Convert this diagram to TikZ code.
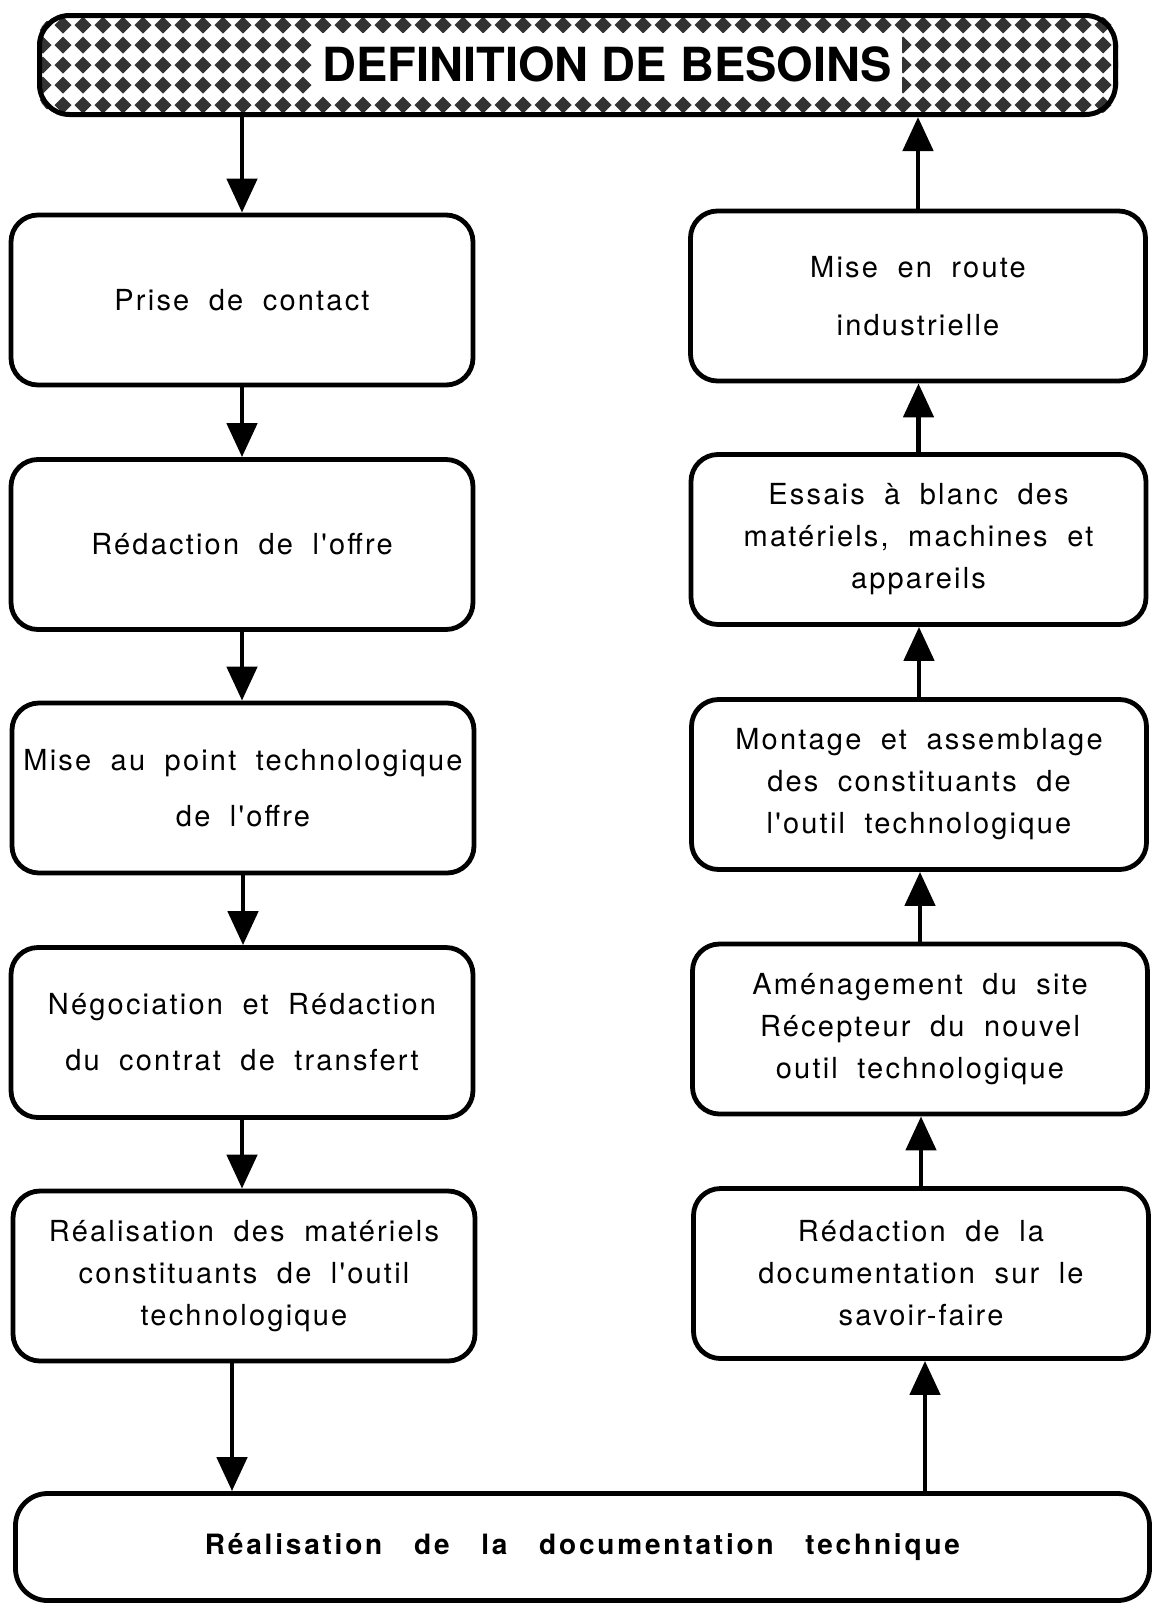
\documentclass[tikz,border=0pt]{standalone}
\usepackage{fontspec}
\newfontfamily\boxfont{TeX Gyre Heros}[LetterSpace=7.6,WordSpace=1.9]
\newfontfamily\docfont{TeX Gyre Heros}[LetterSpace=10,WordSpace=3]
\newfontfamily\titlefont{TeX Gyre Heros}
\usetikzlibrary{arrows.meta}
\usetikzlibrary{backgrounds}
\tikzset{
      etape/.style={draw=black, line width=2.4pt, rounded corners=13.5pt, minimum width=231pt,
            minimum height=85pt, align=center, inner sep=2pt, font=\boxfont\fontsize{14.5}{21}\selectfont},
      etapedroite/.style={etape, minimum width=227.5pt},
      entete/.style={draw=black, line width=2.5pt, rounded corners=15pt, minimum width=538pt, minimum height=49.5pt},
      titre/.style={fill=white, inner sep=0pt, minimum width=295pt, minimum height=31pt,
            font=\titlefont\bfseries\fontsize{23.5}{28}\selectfont},
      documentation/.style={draw=black, line width=2.4pt, rounded corners=16pt, minimum width=567pt,
            minimum height=53.5pt, font=\docfont\bfseries\fontsize{14}{20}\selectfont},
      losange/.style={fill=black!80},
      flux/.style={-{Triangle[length=17pt,width=15pt]}, line width=2.4pt},
}
\begin{document}
\begin{tikzpicture}[x=0.5pt,y=-0.5pt]
        \useasboundingbox (0,0) rectangle (1153,1607);

        % Header
        \node[entete] (head) at (577.5,65) {};
        \begin{scope}[on background layer]
            \clip[rounded corners=15pt] (head.south west) rectangle (head.north east);
            \foreach \i in {0,...,54}
                \foreach \j in {0,...,4}
                    \fill[losange] (43+20*\i,25+20*\j) +(-8.5,0) -- +(0,-8.5) -- +(8.5,0) -- +(0,8.5) -- cycle;
        \end{scope}
        \node[titre] (title) at (607,64) {DEFINITION DE BESOINS};

        % Left column
        \node[etape] (P1) at (242,300) {Prise de contact};
        \node[etape] (P2) at (242,544.5) {Rédaction de l'offre};
        \node[etape] (P3) at (243,788) {Mise au point technologique\\[7pt] de l'offre};
        \node[etape] (P4) at (242,1032.5) {Négociation et Rédaction\\[7pt] du contrat de transfert};
        \node[etape] (P5) at (244,1276) {Réalisation des matériels\\ constituants de l'outil\\ technologique};

        % Right column
        \node[etapedroite] (Q1) at (918,296) {Mise en route\\[8pt] industrielle};
        \node[etapedroite] (Q2) at (918.5,539.5) {Essais à blanc des\\ matériels, machines et\\ appareils};
        \node[etapedroite] (Q3) at (919,784.5) {Montage et assemblage\\ des constituants de\\ l'outil technologique};
        \node[etapedroite] (Q4) at (920,1029) {Aménagement du site\\ Récepteur du nouvel\\ outil technologique};
        \node[etapedroite] (Q5) at (921,1273.5) {Rédaction de la\\ documentation sur le\\ savoir-faire};

        % Bottom
        \node[documentation] (doc) at (582.5,1547) {Réalisation de la documentation technique};

        % Draw the arrows
        \draw[flux] (P1.north |- head.south) -- (P1.north);
        \draw[flux] (P1.south) -- (P1.south |- P2.north);
        \draw[flux] (P2.south) -- (P2.south |- P3.north);
        \draw[flux] (P3.south) -- (P3.south |- P4.north);
        \draw[flux] (P4.south) -- (P4.south |- P5.north);
        \draw[flux] ([xshift=-6pt]P5.south) -- ([xshift=-6pt]P5.south |- doc.north);

        \draw[flux] ([xshift=2pt]Q5.south |- doc.north) -- ([xshift=2pt]Q5.south);
        \draw[flux] (Q5.north) -- (Q5.north |- Q4.south);
        \draw[flux] (Q4.north) -- (Q4.north |- Q3.south);
        \draw[flux] (Q3.north) -- (Q3.north |- Q2.south);
        \draw[flux] (Q2.north) -- (Q2.north |- Q1.south);
        \draw[flux] (Q1.north) -- (Q1.north |- head.south);

\end{tikzpicture}
\end{document}
